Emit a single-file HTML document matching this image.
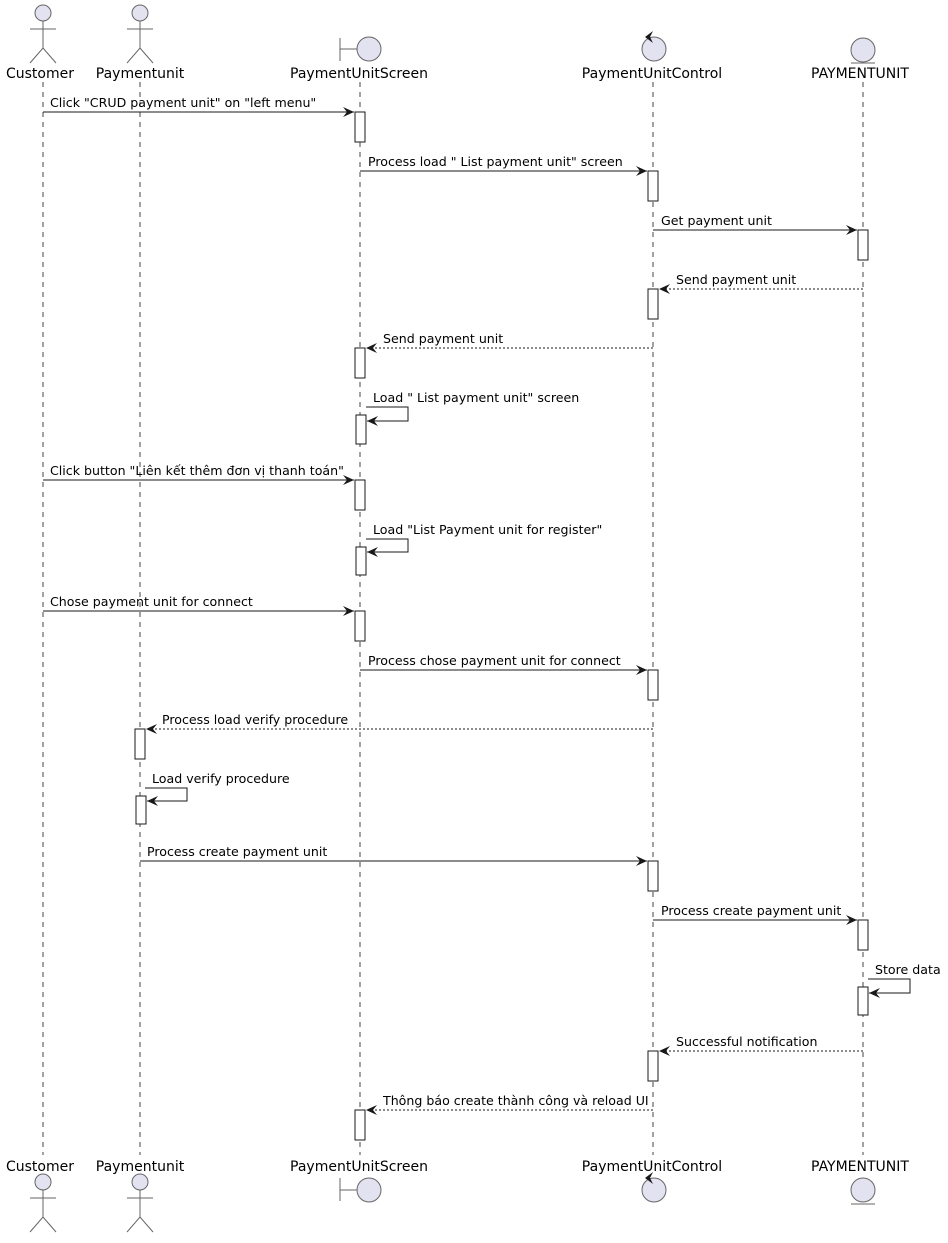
<!DOCTYPE html>
<html><head><meta charset="utf-8"><style>
html,body{margin:0;padding:0;background:#fff;}
svg text{font-family:"DejaVu Sans","Liberation Sans",sans-serif;fill:#000;}
</style></head><body>
<svg width="948" height="1238" viewBox="0 0 948 1238" xmlns="http://www.w3.org/2000/svg">
<defs>
<marker id="a" markerWidth="12" markerHeight="10" refX="11" refY="5" orient="auto" markerUnits="userSpaceOnUse">
<path d="M0,0 L11,5 L0,10 L4,5 Z" fill="#181818"/>
</marker>
</defs>
<g stroke="#181818" stroke-width="0.8" stroke-dasharray="5,5">
<line x1="43" y1="82" x2="43" y2="1155"/>
<line x1="140" y1="82" x2="140" y2="1155"/>
<line x1="360" y1="82" x2="360" y2="1155"/>
<line x1="653" y1="82" x2="653" y2="1155"/>
<line x1="863" y1="82" x2="863" y2="1155"/>
</g>
<g stroke="#666" stroke-width="1" fill="#E2E2F0">
<circle cx="43" cy="13" r="8"/>
<line x1="43" y1="21" x2="43" y2="48"/><line x1="30" y1="29" x2="56" y2="29"/>
<polyline points="30,63 43,48 56,63" fill="none"/>
<circle cx="140" cy="13" r="8"/>
<line x1="140" y1="21" x2="140" y2="48"/><line x1="127" y1="29" x2="153" y2="29"/>
<polyline points="127,63 140,48 153,63" fill="none"/>
<line x1="340" y1="38" x2="340" y2="61"/><line x1="340" y1="49" x2="357" y2="49"/>
<circle cx="369" cy="49" r="12"/>
<circle cx="654" cy="49" r="12"/>
<circle cx="863" cy="50" r="12"/>
<line x1="851" y1="63" x2="875" y2="63"/>
<circle cx="43" cy="1182" r="8"/>
<line x1="43" y1="1190" x2="43" y2="1217"/><line x1="30" y1="1198" x2="56" y2="1198"/>
<polyline points="30,1232 43,1217 56,1232" fill="none"/>
<circle cx="140" cy="1182" r="8"/>
<line x1="140" y1="1190" x2="140" y2="1217"/><line x1="127" y1="1198" x2="153" y2="1198"/>
<polyline points="127,1232 140,1217 153,1232" fill="none"/>
<line x1="340" y1="1178" x2="340" y2="1201"/><line x1="340" y1="1190" x2="357" y2="1190"/>
<circle cx="369" cy="1190" r="12"/>
<circle cx="654" cy="1190" r="12"/>
<circle cx="863" cy="1190" r="12"/>
<line x1="851" y1="1204" x2="875" y2="1204"/>
</g>
<path d="M645,37 L653,31 L650,37 L653,43 Z" fill="#181818"/>
<path d="M645,1178 L653,1172 L650,1178 L653,1184 Z" fill="#181818"/>
<g font-size="14" text-anchor="middle">
<text x="40" y="78">Customer</text><text x="140" y="78">Paymentunit</text>
<text x="359" y="78">PaymentUnitScreen</text><text x="652" y="78">PaymentUnitControl</text>
<text x="860" y="78">PAYMENTUNIT</text>
<text x="40" y="1171">Customer</text><text x="140" y="1171">Paymentunit</text>
<text x="359" y="1171">PaymentUnitScreen</text><text x="652" y="1171">PaymentUnitControl</text>
<text x="860" y="1171">PAYMENTUNIT</text>
</g>
<g fill="#fff" stroke="#181818" stroke-width="1">
<rect x="355" y="112" width="10" height="30"/>
<rect x="648" y="171" width="10" height="30"/>
<rect x="858" y="230" width="10" height="30"/>
<rect x="648" y="289" width="10" height="30"/>
<rect x="355" y="348" width="10" height="30"/>
<rect x="356" y="415" width="10" height="29"/>
<rect x="355" y="480" width="10" height="30"/>
<rect x="356" y="547" width="10" height="28"/>
<rect x="355" y="611" width="10" height="30"/>
<rect x="648" y="670" width="10" height="30"/>
<rect x="135" y="729" width="10" height="30"/>
<rect x="136" y="796" width="10" height="28"/>
<rect x="648" y="861" width="10" height="30"/>
<rect x="858" y="920" width="10" height="30"/>
<rect x="858" y="987" width="10" height="28"/>
<rect x="648" y="1051" width="10" height="30"/>
<rect x="355" y="1110" width="10" height="30"/>
</g>
<g stroke="#181818" stroke-width="1" fill="none" marker-end="url(#a)">
<line x1="43" y1="112" x2="354" y2="112"/>
<line x1="360" y1="171" x2="647" y2="171"/>
<line x1="653" y1="230" x2="857" y2="230"/>
<line x1="863" y1="289" x2="659" y2="289" stroke-dasharray="2,2"/>
<line x1="653" y1="348" x2="366" y2="348" stroke-dasharray="2,2"/>
<polyline points="366,407 408,407 408,421 367,421"/>
<line x1="43" y1="480" x2="354" y2="480"/>
<polyline points="366,539 408,539 408,552 367,552"/>
<line x1="43" y1="611" x2="354" y2="611"/>
<line x1="360" y1="670" x2="647" y2="670"/>
<line x1="653" y1="729" x2="146" y2="729" stroke-dasharray="2,2"/>
<polyline points="145,788 187,788 187,801 147,801"/>
<line x1="140" y1="861" x2="647" y2="861"/>
<line x1="653" y1="920" x2="857" y2="920"/>
<polyline points="868,979 910,979 910,993 869,993"/>
<line x1="863" y1="1051" x2="659" y2="1051" stroke-dasharray="2,2"/>
<line x1="653" y1="1110" x2="366" y2="1110" stroke-dasharray="2,2"/>
</g>
<g font-size="12.6">
<text x="50" y="107">Click "CRUD payment unit" on "left menu"</text>
<text x="368" y="166">Process load " List payment unit" screen</text>
<text x="661" y="225">Get payment unit</text>
<text x="676" y="284">Send payment unit</text>
<text x="383" y="343">Send payment unit</text>
<text x="373" y="402">Load " List payment unit" screen</text>
<text x="50" y="475">Click button "Liên kết thêm đơn vị thanh toán"</text>
<text x="373" y="534">Load "List Payment unit for register"</text>
<text x="50" y="606">Chose payment unit for connect</text>
<text x="368" y="665">Process chose payment unit for connect</text>
<text x="162" y="724">Process load verify procedure</text>
<text x="152" y="783">Load verify procedure</text>
<text x="147" y="856">Process create payment unit</text>
<text x="661" y="915">Process create payment unit</text>
<text x="875" y="974">Store data</text>
<text x="676" y="1046">Successful notification</text>
<text x="383" y="1105">Thông báo create thành công và reload UI</text>
</g>
</svg>
</body></html>
